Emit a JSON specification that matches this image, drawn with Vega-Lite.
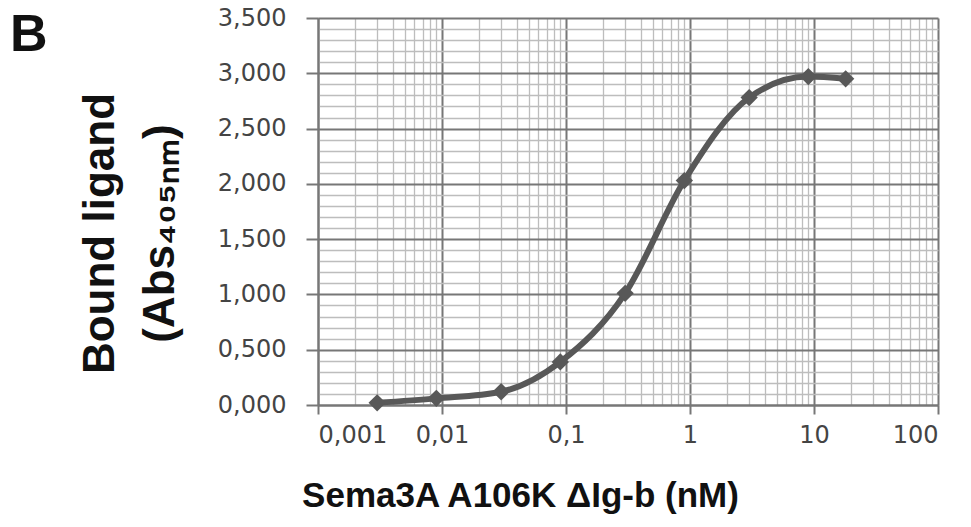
{
  "$schema": "https://vega.github.io/schema/vega-lite/v6.json",
  "autosize": {"type": "none"},
  "padding": {"left": 318, "top": 18, "right": 33, "bottom": 122},
  "width": 620,
  "height": 387,
  "background": "white",
  "title": {"text": "B", "anchor": "start", "frame": "group", "orient": "top", "fontSize": 52, "fontWeight": "bold", "font": "Liberation Sans", "color": "#111", "baseline": "alphabetic", "offset": 0, "dx": -308, "dy": 97},
  "data": {"values": [
    {"conc": 0.003, "abs": 0.02},
    {"conc": 0.009, "abs": 0.06},
    {"conc": 0.03, "abs": 0.12},
    {"conc": 0.09, "abs": 0.39},
    {"conc": 0.3, "abs": 1.01},
    {"conc": 0.9, "abs": 2.03},
    {"conc": 3, "abs": 2.78},
    {"conc": 9, "abs": 2.97},
    {"conc": 18, "abs": 2.95}
  ]},
  "config": {"view": {"stroke": null}},
  "encoding": {
    "x": {"field": "conc", "type": "quantitative",
      "scale": {"type": "log", "domain": [0.001, 100], "nice": false},
      "axis": {
        "values": [0.001,0.002,0.003,0.004,0.005,0.006,0.007,0.008,0.009,0.01,0.02,0.03,0.04,0.05,0.06,0.07,0.08,0.09,0.1,0.2,0.3,0.4,0.5,0.6,0.7,0.8,0.9,1,2,3,4,5,6,7,8,9,10,20,30,40,50,60,70,80,90,100],
        "labelExpr": "abs(log(datum.value)/LN10 - round(log(datum.value)/LN10)) < 1e-6 ? replace(format(datum.value, '~g'), '.', ',') : ''",
        "labelOverlap": false,
        "labelFont": "DejaVu Sans", "labelFontSize": 24, "labelColor": "#444", "labelPadding": 9,
        "grid": true,
        "gridColor": {"condition": {"test": "abs(log(datum.value)/LN10 - round(log(datum.value)/LN10)) < 1e-6", "value": "#777"}, "value": "#bdbdbd"},
        "gridWidth": {"condition": {"test": "abs(log(datum.value)/LN10 - round(log(datum.value)/LN10)) < 1e-6", "value": 2}, "value": 1.3},
        "tickColor": {"condition": {"test": "abs(log(datum.value)/LN10 - round(log(datum.value)/LN10)) < 1e-6", "value": "#777"}, "value": "transparent"},
        "tickSize": 9, "tickWidth": 2,
        "domainColor": "#777", "domainWidth": 2,
        "title": "Sema3A A106K ΔIg-b (nM)",
        "titleFont": "Liberation Sans", "titleFontSize": 35, "titleFontWeight": "bold", "titleColor": "#111",
        "titleX": 202, "titleY": 90, "titleAlign": "center", "titleBaseline": "middle", "titleAnchor": null
      }},
    "y": {"field": "abs", "type": "quantitative",
      "scale": {"domain": [0, 3.5], "nice": false},
      "axis": {
        "values": [0,0.1,0.2,0.3,0.4,0.5,0.6,0.7,0.8,0.9,1,1.1,1.2,1.3,1.4,1.5,1.6,1.7,1.8,1.9,2,2.1,2.2,2.3,2.4,2.5,2.6,2.7,2.8,2.9,3,3.1,3.2,3.3,3.4,3.5],
        "labelExpr": "abs(datum.value*2 - round(datum.value*2)) < 1e-6 ? replace(format(datum.value, '.3f'), '.', ',') : ''",
        "labelOverlap": false,
        "labelFont": "DejaVu Sans", "labelFontSize": 24, "labelColor": "#444", "labelPadding": 20,
        "grid": true,
        "gridColor": {"condition": {"test": "abs(datum.value*2 - round(datum.value*2)) < 1e-6", "value": "#777"}, "value": "#bdbdbd"},
        "gridWidth": {"condition": {"test": "abs(datum.value*2 - round(datum.value*2)) < 1e-6", "value": 2}, "value": 1.3},
        "tickColor": {"condition": {"test": "abs(datum.value*2 - round(datum.value*2)) < 1e-6", "value": "#777"}, "value": "transparent"},
        "tickSize": 12, "tickWidth": 2,
        "domainColor": "#777", "domainWidth": 2,
        "title": ["Bound ligand", "(Abs₄₀₅ₙₘ)"],
        "titleFont": "Liberation Sans", "titleFontSize": 44, "titleFontWeight": "bold", "titleColor": "#111",
        "titleAngle": -90, "titleX": -218, "titleY": 215, "titleAlign": "center", "titleBaseline": "middle", "titleLineHeight": 60, "titleAnchor": null
      }}
  },
  "layer": [
    {"mark": {"type": "line", "interpolate": "monotone", "color": "#585858", "strokeWidth": 6}},
    {"mark": {"type": "point", "shape": "diamond", "filled": true, "color": "#585858", "opacity": 1, "size": 300}}
  ]
}
